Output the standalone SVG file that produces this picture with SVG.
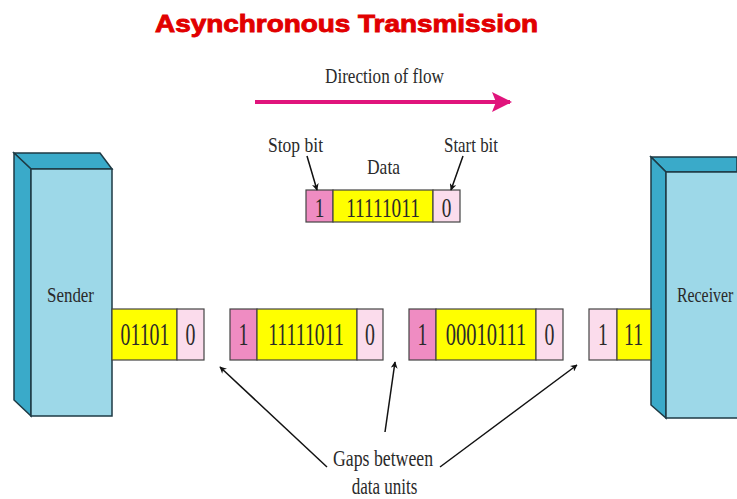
<svg xmlns="http://www.w3.org/2000/svg" width="737" height="499" viewBox="0 0 737 499">
<style>
.t{font-family:"Liberation Serif","Times New Roman",serif;fill:#2a2a2a;}
.d{font-family:"Liberation Serif","Times New Roman",serif;fill:#2a2a2a;font-size:32px;text-anchor:middle;}
.dt{font-family:"Liberation Serif","Times New Roman",serif;fill:#2a2a2a;font-size:28px;text-anchor:middle;}
.front{fill:#9dd8e8;stroke:#1e3a44;stroke-width:1.5;}
.side{fill:#3aaac9;stroke:#1e3a44;stroke-width:1.5;}
.y{fill:#ffff00;stroke:#444;stroke-width:1.2;}
.dp{fill:#ef8cc2;stroke:#444;stroke-width:1.2;}
.lp{fill:#fbdcec;stroke:#444;stroke-width:1.2;}
.ar{stroke:#111;stroke-width:1.5;fill:none;marker-end:url(#ah);}
</style>
<defs>
<marker id="ah" viewBox="0 0 10 10" refX="9" refY="5" markerWidth="7" markerHeight="7" orient="auto" markerUnits="userSpaceOnUse">
<path d="M0,0 L10,5 L0,10 L3,5 z" fill="#111"/>
</marker>
<marker id="ahp" viewBox="0 0 10 10" refX="9" refY="5" markerWidth="5" markerHeight="5" orient="auto">
<path d="M0,0 L10,5 L0,10 L2,5 z" fill="#e0147c"/>
</marker>
</defs>
<rect width="737" height="499" fill="#fff"/>
<text x="155" y="32" font-family="'Liberation Sans',Arial,sans-serif" font-weight="bold" font-size="24" fill="#e10000" stroke="#e10000" stroke-width="0.9" textLength="383" lengthAdjust="spacingAndGlyphs">Asynchronous Transmission</text>
<text class="t" x="325" y="83" font-size="22" textLength="119" lengthAdjust="spacingAndGlyphs">Direction of flow</text>

<g id="sender">
<polygon class="side" points="14,153 100,153 112,169 31,169"/>
<polygon class="side" points="14,153 31,169 31,416 14,400"/>
<rect class="front" x="31" y="169" width="81" height="247"/>
<text class="t" x="47" y="302" font-size="22" textLength="47" lengthAdjust="spacingAndGlyphs">Sender</text>
</g>

<g id="receiver">
<polygon class="side" points="651,157 737,157 737,172 666,172"/>
<polygon class="side" points="651,157 666,172 666,418 651,405"/>
<path class="front" d="M737,172 H666 V418 H737"/>
<text class="t" font-size="22" transform="translate(677,302) scale(0.72,1)">Receiver</text>
</g>

<g id="frame-detail">
<rect class="dp" x="306" y="190" width="27" height="32"/>
<rect class="y" x="333" y="190" width="100" height="32"/>
<rect class="lp" x="433" y="190" width="27" height="32"/>
<text class="dt" transform="translate(319.5,217) scale(0.69,1)">1</text>
<text class="dt" transform="translate(383,217) scale(0.69,1)">11111011</text>
<text class="dt" transform="translate(446.5,217) scale(0.69,1)">0</text>
<text class="t" x="268" y="152" font-size="22" textLength="55" lengthAdjust="spacingAndGlyphs">Stop bit</text>
<text class="t" x="367" y="174" font-size="22" textLength="33" lengthAdjust="spacingAndGlyphs">Data</text>
<text class="t" x="444" y="152" font-size="22" textLength="54" lengthAdjust="spacingAndGlyphs">Start bit</text>
</g>

<g id="frame-1">
<rect class="y" x="112" y="309" width="65" height="51"/>
<rect class="lp" x="177" y="309" width="27" height="51"/>
<text class="d" transform="translate(145,345) scale(0.62,1)">01101</text>
<text class="d" transform="translate(190.5,345) scale(0.62,1)">0</text>
</g>

<g id="frame-2">
<rect class="dp" x="230" y="309" width="27" height="51"/>
<rect class="y" x="257" y="309" width="100" height="51"/>
<rect class="lp" x="357" y="309" width="26" height="51"/>
<text class="d" transform="translate(243.5,345) scale(0.62,1)">1</text>
<text class="d" transform="translate(306,345) scale(0.62,1)">11111011</text>
<text class="d" transform="translate(370,345) scale(0.62,1)">0</text>
</g>

<g id="frame-3">
<rect class="dp" x="409" y="309" width="27" height="51"/>
<rect class="y" x="436" y="309" width="100" height="51"/>
<rect class="lp" x="536" y="309" width="27" height="51"/>
<text class="d" transform="translate(422.5,345) scale(0.62,1)">1</text>
<text class="d" transform="translate(486,345) scale(0.64,1)">00010111</text>
<text class="d" transform="translate(549.5,345) scale(0.62,1)">0</text>
</g>

<g id="frame-4">
<rect class="lp" x="589" y="309" width="28" height="51"/>
<rect class="y" x="617" y="309" width="34" height="51"/>
<text class="d" transform="translate(603,345) scale(0.62,1)">1</text>
<text class="d" transform="translate(633.5,345) scale(0.62,1)">11</text>
</g>

<g id="gaps-label">
<text class="t" font-size="24" text-anchor="middle" transform="translate(383,466) scale(0.74,1)">Gaps between</text>
<text class="t" font-size="24" text-anchor="middle" transform="translate(384.5,494) scale(0.71,1)">data units</text>
</g>

<g id="connectors">
<line x1="255" y1="102" x2="510" y2="102" stroke="#e0147c" stroke-width="4" marker-end="url(#ahp)"/>
<line class="ar" x1="307" y1="156" x2="317" y2="190"/>
<line class="ar" x1="463" y1="156" x2="451" y2="190"/>
<line class="ar" x1="327" y1="467" x2="220" y2="367"/>
<line class="ar" x1="385" y1="432" x2="395" y2="362"/>
<line class="ar" x1="440" y1="467" x2="577" y2="365"/>
</g>
</svg>
